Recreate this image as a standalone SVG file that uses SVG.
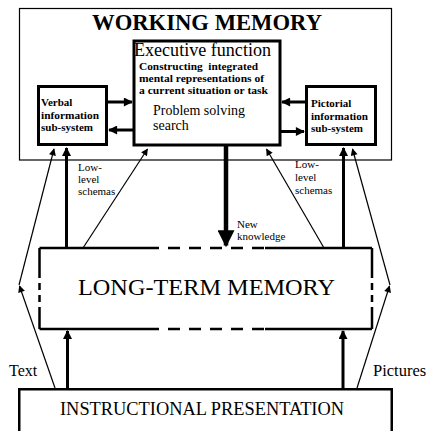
<svg xmlns="http://www.w3.org/2000/svg" width="427" height="431" viewBox="0 0 427 431" font-family="'Liberation Serif', 'DejaVu Serif', serif">
<style>
text{font-family:'Liberation Serif','DejaVu Serif',serif;fill:#000}
.b{font-weight:bold}
.box{fill:none;stroke:#000;stroke-width:3}
.ln{fill:none;stroke:#000;stroke-width:2.5}
.thin{fill:none;stroke:#000;stroke-width:1.2}
.thk{fill:none;stroke:#000;stroke-width:3}
.dh{stroke-dasharray:12 9}
.dv{stroke-dasharray:7 5}
</style>
<defs>
<marker id="a" viewBox="0 0 10 10" refX="9" refY="5" markerWidth="9" markerHeight="7" markerUnits="userSpaceOnUse" orient="auto"><path d="M0,0L10,5L0,10z"/></marker>
<marker id="t" viewBox="0 0 10 10" refX="9" refY="5" markerWidth="10" markerHeight="9" markerUnits="userSpaceOnUse" orient="auto"><path d="M0,0L10,5L0,10z"/></marker>
<marker id="big" viewBox="0 0 10 10" refX="9" refY="5" markerWidth="25" markerHeight="17" markerUnits="userSpaceOnUse" orient="auto"><path d="M0,0L10,5L0,10z"/></marker>
</defs>

<g id="working-memory">
<rect x="19.5" y="8.5" width="372" height="151.5" fill="none" stroke="#000" stroke-width="1.2"/>
<text x="92" y="29.5" class="b" font-size="22.6" textLength="230" lengthAdjust="spacingAndGlyphs">WORKING MEMORY</text>
</g>

<g id="executive-function">
<rect x="134" y="41" width="146" height="104" class="box"/>
<text x="134" y="56" font-size="18" textLength="137" lengthAdjust="spacingAndGlyphs">Executive function</text>
<text x="139" y="69.5" class="b" font-size="11" textLength="119" lengthAdjust="spacingAndGlyphs" xml:space="preserve">Constructing  integrated</text>
<text x="139" y="82" class="b" font-size="11" textLength="125" lengthAdjust="spacingAndGlyphs">mental representations of</text>
<text x="139" y="94" class="b" font-size="11" textLength="129" lengthAdjust="spacingAndGlyphs">a current situation or task</text>
<text x="153" y="115" font-size="14" textLength="92" lengthAdjust="spacingAndGlyphs">Problem solving</text>
<text x="153" y="129.5" font-size="14">search</text>
</g>

<g id="verbal">
<rect x="38.5" y="86.5" width="68" height="58" class="box"/>
<text x="41" y="106" class="b" font-size="11">Verbal</text>
<text x="41" y="118.5" class="b" font-size="11" textLength="58" lengthAdjust="spacingAndGlyphs">information</text>
<text x="41" y="131" class="b" font-size="11">sub-system</text>
</g>

<g id="pictorial">
<rect x="306.5" y="86.5" width="69" height="58" class="box"/>
<text x="311" y="107" class="b" font-size="11">Pictorial</text>
<text x="311" y="119.5" class="b" font-size="11" textLength="57" lengthAdjust="spacingAndGlyphs">information</text>
<text x="311" y="131.5" class="b" font-size="11">sub-system</text>
</g>

<g id="long-term-memory">
<path class="ln" d="M39.5,248H147M265,248H372M39.5,329H147M265,329H372M39.5,248V271M39.5,308V329M372,248V271M372,308V329"/>
<path class="ln dh" d="M147,248H265M147,329H265"/>
<path class="ln dv" d="M39.5,271V308M372,271V308"/>
<text x="78" y="295" font-size="24" textLength="257" lengthAdjust="spacingAndGlyphs">LONG-TERM MEMORY</text>
</g>

<g id="instructional-presentation">
<rect x="19.25" y="389.25" width="372.5" height="60" fill="none" stroke="#000" stroke-width="2.5"/>
<text x="60" y="415" font-size="19" textLength="284" lengthAdjust="spacingAndGlyphs">INSTRUCTIONAL PRESENTATION</text>
</g>

<g id="connectors">
<line class="thk" x1="108" y1="102" x2="132" y2="102" marker-end="url(#t)"/>
<line class="thk" x1="133" y1="130" x2="109" y2="130" marker-end="url(#t)"/>
<line class="thk" x1="305" y1="102" x2="282" y2="102" marker-end="url(#t)"/>
<line class="thk" x1="281" y1="131.5" x2="304" y2="131.5" marker-end="url(#t)"/>
<line x1="226" y1="146" x2="226" y2="245.5" stroke="#000" stroke-width="4.5" marker-end="url(#big)"/>
<line class="thk" x1="66.5" y1="248" x2="66.5" y2="148" marker-end="url(#t)"/>
<line class="thk" x1="343.5" y1="248" x2="343.5" y2="148" marker-end="url(#t)"/>
<line class="thk" x1="67.5" y1="388" x2="67.5" y2="331" marker-end="url(#t)"/>
<line class="thk" x1="343" y1="388" x2="343" y2="331" marker-end="url(#t)"/>
<line class="thin" x1="83" y1="248" x2="147.5" y2="149" marker-end="url(#a)"/>
<line class="thin" x1="324" y1="248" x2="266.5" y2="149" marker-end="url(#a)"/>
<line class="thin" x1="55" y1="388" x2="19.5" y2="286" marker-end="url(#a)"/>
<line class="thin" x1="19" y1="285" x2="54" y2="149" marker-end="url(#a)"/>
<line class="thin" x1="357" y1="388" x2="389.5" y2="286" marker-end="url(#a)"/>
<line class="thin" x1="390" y1="285" x2="352.5" y2="149" marker-end="url(#a)"/>
<text x="78" y="171" font-size="11">Low-</text>
<text x="78" y="183" font-size="11">level</text>
<text x="78" y="195" font-size="11">schemas</text>
<text x="295" y="168" font-size="11">Low-</text>
<text x="295" y="181" font-size="11">level</text>
<text x="295" y="194" font-size="11">schemas</text>
<text x="237" y="228" font-size="11">New</text>
<text x="237" y="240" font-size="11">knowledge</text>
<text x="9" y="376" font-size="16">Text</text>
<text x="373" y="376" font-size="16.5">Pictures</text>
</g>
</svg>
